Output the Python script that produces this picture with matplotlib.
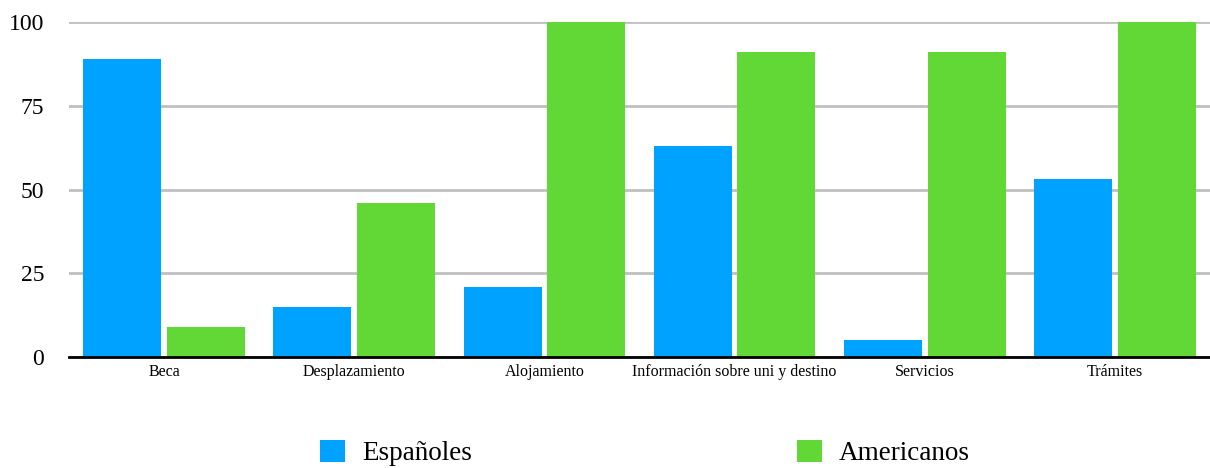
import matplotlib.pyplot as plt
import numpy as np
from matplotlib.patches import Patch

# --- data ---
categories = ["Beca", "Desplazamiento", "Alojamiento",
              "Información sobre uni y destino", "Servicios", "Trámites"]
espanoles = [89, 15, 21, 63, 5, 53]
americanos = [9, 46, 100, 91, 91, 100]
series_names = ["Españoles", "Americanos"]
yticks = [0, 25, 50, 75, 100]

BLUE = "#00A2FF"
GREEN = "#61D836"

plt.rcParams["font.family"] = ["Liberation Serif", "DejaVu Serif"]

fig = plt.figure(figsize=(12.1, 4.68), dpi=100)
ax = fig.add_axes([69 / 1210, (468 - 357) / 468, (1210 - 69) / 1210, 335 / 468])

x = np.arange(len(categories))
w = 0.41
gap = 0.03
ax.bar(x - (w + gap) / 2, espanoles, width=w, color=BLUE, zorder=3)
ax.bar(x + (w + gap) / 2, americanos, width=w, color=GREEN, zorder=3)

ax.set_xlim(-0.5, len(categories) - 0.5)
ax.set_ylim(0, 100)
ax.set_yticks(yticks)
ax.set_xticks(x)
ax.set_xticklabels(categories, fontsize=11.5)
ax.tick_params(axis="y", length=0, pad=18, labelsize=17)
ax.tick_params(axis="x", length=0, pad=5)
ax.yaxis.grid(True, color="#c0c0c0", linewidth=2, zorder=0)
ax.set_axisbelow(True)

for s in ["top", "right", "left"]:
    ax.spines[s].set_visible(False)
ax.spines["bottom"].set_linewidth(2)
ax.spines["bottom"].set_color("black")
ax.spines["bottom"].set_zorder(4)

# --- legend ---
handles = [Patch(facecolor=BLUE), Patch(facecolor=GREEN)]
fig.legend(handles, series_names, loc="center left",
           bbox_to_anchor=(320 / 1210, (468 - 453) / 468), ncol=2,
           frameon=False, fontsize=19.5, handlelength=0.92, handleheight=0.92,
           handletextpad=0.63, columnspacing=12.0, borderaxespad=0,
           borderpad=0)

plt.savefig("out.png", dpi=100)
